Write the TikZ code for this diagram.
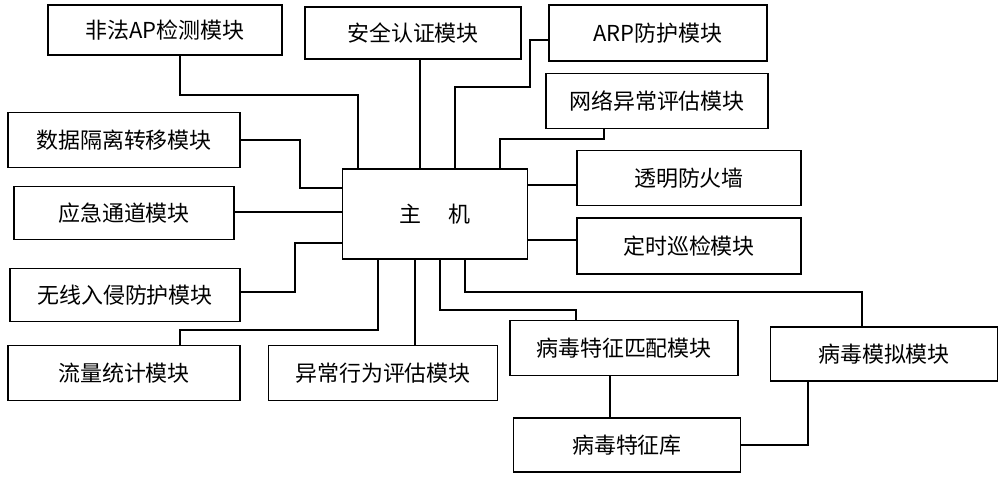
\documentclass[tikz,border=0pt]{standalone}
\usepackage{fontspec}
\setmainfont{Noto Sans CJK SC}
\begin{document}
\begin{tikzpicture}[x=0.02cm,y=-0.02cm,
  box/.style={draw,line width=0.8pt,inner sep=0pt,font=\fontsize{12.5}{14}\selectfont},
  wire/.style={line width=0.8pt}]
\useasboundingbox (0,0) rectangle (1000,477);
\newcommand{\bx}[6]{\node[box,minimum width=#4*0.02cm,minimum height=#5*0.02cm] (#1) at (#2,#3) {#6};}
% name, cx, cy, w, h
\bx{ap}{165}{30}{234}{50}{非法AP检测模块}
\bx{aq}{413}{33}{216}{52}{安全认证模块}
\bx{arp}{658}{33}{218}{56}{ARP防护模块}
\bx{wl}{657}{101}{222}{55}{网络异常评估模块}
\bx{sj}{124}{140}{232}{55}{数据隔离转移模块}
\bx{host}{435}{214}{185}{90}{主\hspace{1.2em}机}
\bx{fw}{689}{178}{224}{55}{透明防火墙}
\bx{yj}{124}{213}{220}{53}{应急通道模块}
\bx{ds}{689}{246}{224}{56}{定时巡检模块}
\bx{wx}{125}{295}{230}{53}{无线入侵防护模块}
\bx{ll}{124}{373}{232}{55}{流量统计模块}
\bx{yc}{383}{373}{229}{55}{异常行为评估模块}
\bx{pp}{624}{348}{228}{55}{病毒特征匹配模块}
\bx{mn}{884}{354}{227}{54}{病毒模拟模块}
\bx{tz}{627}{445}{227}{54}{病毒特征库}
\draw[wire] (ap.south -| 180,0) |- (358,95) -- (358,0 |- host.north);
\draw[wire] (420,0 |- aq.south) -- (420,0 |- host.north);
\draw[wire] (arp.west |- 0,40) -| (530,87) -| (455,0 |- host.north);
\draw[wire] (604,0 |- wl.south) |- (500,139) -- (500,0 |- host.north);
\draw[wire] (sj.east |- 0,140) -| (300,188) -- (host.west |- 0,188);
\draw[wire] (host.east |- 0,185) -- (fw.west |- 0,185);
\draw[wire] (yj.east |- 0,212) -- (host.west |- 0,212);
\draw[wire] (host.east |- 0,240) -- (ds.west |- 0,240);
\draw[wire] (wx.east |- 0,292) -| (295,243) -- (host.west |- 0,243);
\draw[wire] (180,0 |- ll.north) |- (378,330) -- (378,0 |- host.south);
\draw[wire] (415,0 |- yc.north) -- (415,0 |- host.south);
\draw[wire] (440,0 |- host.south) |- (576,310) -- (576,0 |- pp.north);
\draw[wire] (465,0 |- host.south) |- (862,292) -- (862,0 |- mn.north);
\draw[wire] (610,0 |- pp.south) -- (610,0 |- tz.north);
\draw[wire] (tz.east |- 0,445) -| (808,0 |- mn.south);
\end{tikzpicture}
\end{document}
